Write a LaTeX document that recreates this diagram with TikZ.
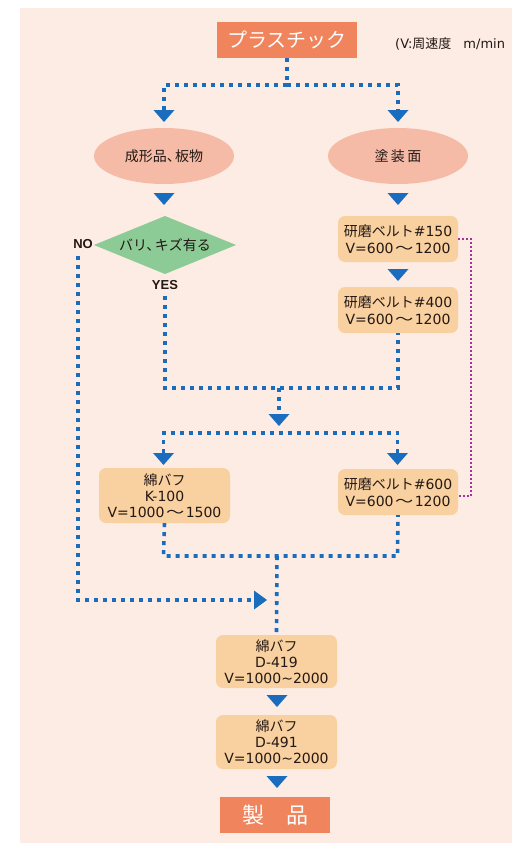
\documentclass[tikz,border=0pt]{standalone}
\usepackage{fontspec}
\usepackage{graphicx}
\setmainfont{Noto Sans CJK JP}
\newfontfamily\latinface{DejaVu Sans}
\newfontfamily\latinbold{Liberation Sans}
\usetikzlibrary{shapes.geometric,calc}

\definecolor{bgpink}{HTML}{FDECE3}
\definecolor{titleorange}{HTML}{F0845C}
\definecolor{ovalpink}{HTML}{F5BBA6}
\definecolor{boxtan}{HTML}{F9D09F}
\definecolor{leafgreen}{HTML}{8CCB95}
\definecolor{flowblue}{HTML}{1A6CBE}
\definecolor{linkpurple}{HTML}{A3329A}
\definecolor{inkgray}{HTML}{231815}

% Latin runs, the wide wave dash and a tight ideographic comma
\newcommand\lat[1]{{\latinface #1}}
\newcommand\wave{\hspace{1.5pt}\scalebox{1.3}[1]{〜}\hspace{1.5pt}}
\newcommand\narrowtilde{{\latinface\char"007E}}
\newcommand\tightcomma{、\kern-0.4em}

% downward marker: base centre at #2, apex 12pt below
\newcommand\flowdown[2]{%
  \coordinate (#1) at (#2);
  \fill[flowblue] ($(#1)+(-10.5,0)$) -- ($(#1)+(10.5,0)$) -- ($(#1)+(0,12)$) -- cycle;}
% rightward marker: base centre at #2, apex 13pt to the right
\newcommand\flowright[2]{%
  \coordinate (#1) at (#2);
  \fill[flowblue] ($(#1)+(0,-9.5)$) -- ($(#1)+(0,9.5)$) -- ($(#1)+(13,0)$) -- cycle;}

\begin{document}
\begin{tikzpicture}[x=1pt,y=-1pt,
  every node/.style={text=inkgray, align=center, inner sep=0pt},
  flow/.style={draw=flowblue, line width=3.6pt, dash pattern=on 4pt off 5pt},
  link/.style={draw=linkpurple, line width=1.8pt, dash pattern=on 1.8pt off 2.2pt},
  titlebox/.style={fill=titleorange, text=white, minimum height=36pt,
    font=\fontsize{20}{24}\selectfont},
  oval/.style={ellipse, fill=ovalpink, minimum width=140pt, minimum height=56pt,
    font=\fontsize{14}{15}\selectfont},
  stepbox/.style={rounded corners=7pt, fill=boxtan, minimum width=120pt,
    font=\fontsize{14}{17}\selectfont},
  answer/.style={font=\latinbold\bfseries\fontsize{13}{15}\selectfont}
]
\useasboundingbox (0,0) rectangle (512,849);
\fill[bgpink] (20,8) rectangle (512,843);

% title and legend
\node[titlebox, minimum width=140pt] (plastic) at (287,40) {プラスチック};
\node[anchor=west, font=\fontsize{13}{15}\selectfont] (legend) at (395,44)
  {\lat{(V:}周速度\hspace{12pt}\lat{m/min}};

% first split
\flowdown{mA}{164,110}
\flowdown{mB}{398,110}
\draw[flow] (plastic.south) -- (287,85) -- (164,85) -- (mA);
\draw[flow] (287,85) -- (398,85) -- (mB);

\node[oval] (molded) at (164,156) {成形品\tightcomma 板物};
\node[oval] (painted) at (398,156) {塗\,装\,面};
\flowdown{mC}{164,193}
\flowdown{mD}{398,193}

% left branch: inspection diamond
\fill[leafgreen] (94,245) -- (165,216) -- (236,245) -- (165,274) -- cycle;
\node[font=\fontsize{14}{15}\selectfont] (check) at (165,245) {バリ\tightcomma キズ有る};
\node[answer, anchor=east] (no) at (93,244) {NO};
\node[answer] (yes) at (165,285) {YES};

% right branch: belt grinding
\node[stepbox, minimum height=46pt] (b150) at (398,239)
  {研磨ベルト\lat{\#150}\\\lat{V=600}\wave\lat{1200}};
\flowdown{mE}{398,269}
\node[stepbox, minimum height=46pt] (b400) at (398,310)
  {研磨ベルト\lat{\#400}\\\lat{V=600}\wave\lat{1200}};

% merge and second split
\draw[flow] (yes.south) ++(0,6) -- (165,388) -- (398,388) -- (b400.south);
\flowdown{mF}{279,414}
\draw[flow] (279,388) -- (mF);
\flowdown{mG}{163.5,453}
\flowdown{mH}{397.5,453}
\draw[flow] (mG) -- (163.5,433) -- (397.5,433) -- (mH);

\node[stepbox, minimum width=131pt, minimum height=55pt, font=\fontsize{14}{16}\selectfont] (k100) at (164.5,495.5)
  {綿バフ\\\lat{K-100}\\\lat{V=1000}\wave\lat{1500}};
\node[stepbox, minimum height=46pt] (b600) at (398,492)
  {研磨ベルト\lat{\#600}\\\lat{V=600}\wave\lat{1200}};

% shortcut from #150 to #600
\coordinate (b600in) at ($(b600.east)+(0,4)$);
\draw[link] (b150.east) -- (471,239) -- (471,496) -- (b600in);

% final polishing
\flowright{mI}{254,600}
\draw[flow] (78,256) -- (78,600) -- (mI);
\node[stepbox, minimum width=121pt, minimum height=53pt, font=\fontsize{14}{16}\selectfont] (d419) at (276.5,661.5)
  {綿バフ\\\lat{D-419}\\\lat{V=1000}\narrowtilde\lat{2000}};
\draw[flow] (k100.south) -- (163.5,556) -- (397.5,556) -- (b600.south);
\draw[flow] (277,556) -- (d419.north);
\flowdown{mJ}{277,695}
\node[stepbox, minimum width=121pt, minimum height=54pt, font=\fontsize{14}{16}\selectfont] (d491) at (276.5,742)
  {綿バフ\\\lat{D-491}\\\lat{V=1000}\narrowtilde\lat{2000}};
\flowdown{mK}{277,776}
\node[titlebox, minimum width=110pt, font=\fontsize{22}{26}\selectfont] (product) at (275,815) {製　品};
\end{tikzpicture}
\end{document}
